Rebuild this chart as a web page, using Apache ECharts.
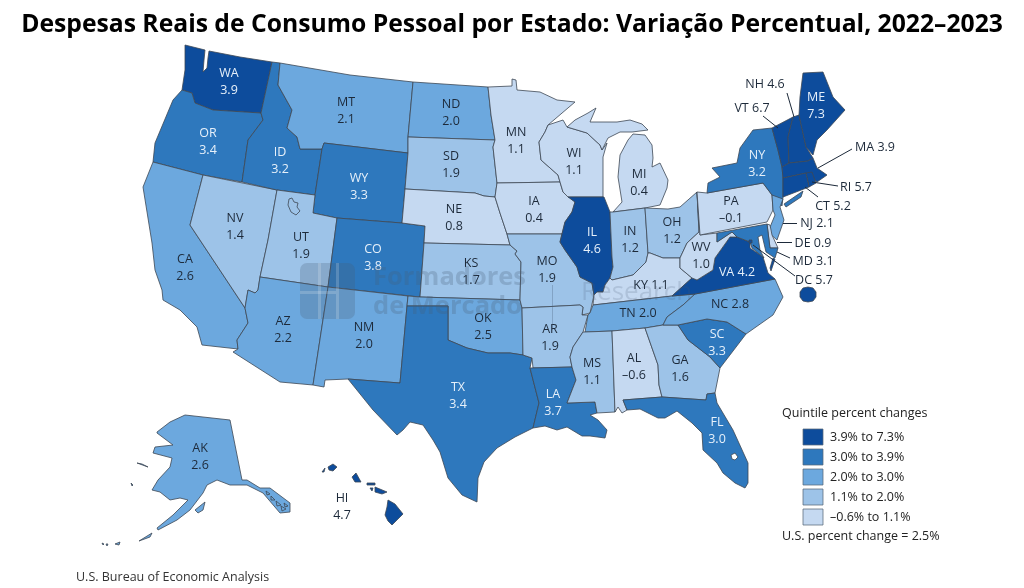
<!DOCTYPE html>
<html lang="pt">

<head>
  <meta charset="UTF-8" />
  <title>Despesas Reais de Consumo Pessoal por Estado</title>
  <script src="https://cdn.jsdelivr.net/npm/echarts@6/dist/echarts.min.js"></script>
  <style>
    html,
    body {
      margin: 0;
      background: #fff;
    }

    #chart {
      width: 1024px;
      height: 588px;
    }
  </style>
</head>

<body>
  <div id="chart"></div>

  <script>
    const stateCodes = ['WA', 'OR', 'CA', 'NV', 'ID', 'MT', 'WY', 'UT', 'AZ', 'CO', 'NM', 'ND', 'SD', 'NE', 'KS', 'OK', 'TX',
      'MN', 'IA', 'MO', 'AR', 'LA', 'WI', 'IL', 'MI', 'IN', 'OH', 'KY', 'TN', 'MS', 'AL', 'GA', 'FL', 'SC', 'NC', 'VA', 'WV',
      'PA', 'NY', 'VT', 'NH', 'ME', 'MA', 'RI', 'CT', 'NJ', 'DE', 'MD', 'DC', 'AK', 'HI'];
    const stateValues = [3.9, 3.4, 2.6, 1.4, 3.2, 2.1, 3.3, 1.9, 2.2, 3.8, 2.0, 2.0, 1.9, 0.8, 1.7, 2.5, 3.4,
      1.1, 0.4, 1.9, 1.9, 3.7, 1.1, 4.6, 0.4, 1.2, 1.2, 1.1, 2.0, 1.1, -0.6, 1.6, 3.0, 3.3, 2.8, 4.2, 1.0,
      -0.1, 3.2, 6.7, 4.6, 7.3, 3.9, 5.7, 5.2, 2.1, 0.9, 3.1, 5.7, 2.6, 4.7];
    // 1 = quintil mais alto, 5 = mais baixo
    const stateQuintiles = [1, 2, 3, 4, 2, 3, 2, 4, 3, 2, 3, 3, 4, 5, 4, 3, 2,
      5, 5, 4, 4, 2, 5, 1, 5, 4, 4, 5, 3, 4, 5, 4, 2, 2, 3, 1, 5,
      5, 2, 1, 1, 1, 1, 1, 1, 3, 5, 2, 1, 3, 1];
    const quintileLabels = ['3.9% to 7.3%', '3.0% to 3.9%', '2.0% to 3.0%', '1.1% to 2.0%', '–0.6% to 1.1%'];
    const quintileColors = ['#0d4c9c', '#2e78bd', '#6ca8de', '#9dc3e8', '#c5d9f1'];

    // estados com rótulo em uma linha só
    const oneLineStates = ['KY', 'TN', 'NC', 'VA', 'NH', 'VT', 'MA', 'RI', 'CT', 'NJ', 'DE', 'MD', 'DC'];
    // estados com rótulo fora do polígono ficam sempre escuros
    const outsideLabels = ['NH', 'VT', 'MA', 'RI', 'CT', 'NJ', 'DE', 'MD', 'DC', 'HI'];

    // contornos desenhados à mão, em px da imagem (y para baixo)
    const stateShapes = {
      WA: [[[185, 45], [205, 50], [204, 60], [203, 72], [207, 68], [208, 58], [209, 51], [240, 57], [272, 62], [261, 113], [213, 110], [195, 103], [192, 93], [182, 90], [185, 70]]],
      OR: [[[182, 90], [192, 93], [195, 103], [213, 110], [261, 113], [263, 120], [248, 140], [242, 182], [203, 175], [153, 162], [155, 143], [173, 100]]],
      CA: [[[153, 162], [203, 175], [190, 225], [245, 308], [248, 323], [237, 340], [238, 349], [202, 345], [197, 327], [180, 310], [163, 300], [162, 290], [155, 270], [152, 243], [143, 187]]],
      NV: [[[203, 175], [277, 190], [268, 240], [260, 277], [258, 290], [255, 293], [248, 290], [245, 308], [190, 225]]],
      ID: [[[272, 62], [280, 63], [278, 85], [292, 110], [287, 128], [297, 137], [300, 149], [322, 149], [315, 195], [277, 190], [242, 182], [248, 140], [263, 120], [261, 113]]],
      MT: [[[280, 63], [350, 75], [413, 82], [408, 137], [408, 153], [324, 143], [322, 149], [300, 149], [297, 137], [287, 128], [292, 110], [278, 85]]],
      WY: [[[324, 143], [408, 153], [405, 189], [402, 223], [337, 218], [313, 213], [315, 195], [322, 149]]],
      UT: [[[277, 190], [315, 195], [313, 213], [337, 218], [328, 287], [260, 277], [268, 240]],
        [[289, 199], [288, 205], [291, 212], [296, 215], [300, 211], [297, 207], [298, 203], [294, 202], [292, 198]]],
      AZ: [[[260, 277], [328, 287], [313, 385], [280, 382], [233, 352], [238, 349], [237, 340], [248, 323], [245, 308], [248, 290], [255, 293], [258, 290]]],
      CO: [[[337, 218], [402, 223], [425, 226], [424, 243], [420, 297], [328, 287]]],
      NM: [[[328, 287], [408, 296], [407, 306], [400, 383], [348, 379], [325, 380], [324, 387], [313, 385]]],
      ND: [[[413, 82], [488, 87], [491, 115], [495, 140], [408, 137]]],
      SD: [[[408, 137], [495, 140], [493, 147], [497, 183], [495, 197], [484, 196], [475, 193], [405, 189], [408, 153]]],
      NE: [[[405, 189], [475, 193], [484, 196], [495, 197], [500, 213], [507, 234], [510, 245], [424, 243], [425, 226], [402, 223]]],
      KS: [[[424, 243], [510, 245], [517, 251], [515, 254], [521, 262], [520, 300], [420, 297]]],
      OK: [[[408, 296], [420, 297], [520, 300], [522, 308], [523, 355], [510, 353], [488, 353], [467, 348], [448, 340], [448, 306], [407, 306]]],
      TX: [[[407, 306], [448, 306], [448, 340], [467, 348], [488, 353], [510, 353], [523, 355], [532, 358], [530, 368], [539, 403], [533, 428], [515, 437], [497, 448], [484, 462], [478, 478], [477, 502], [462, 495], [448, 478], [440, 452], [433, 440], [423, 425], [410, 422], [403, 430], [397, 435], [373, 410], [348, 379], [400, 383]]],
      MN: [[[488, 87], [512, 86], [512, 79], [516, 80], [517, 90], [540, 92], [557, 100], [575, 102], [548, 125], [545, 132], [539, 142], [541, 160], [558, 175], [560, 182], [497, 183], [493, 147], [495, 140], [491, 115]]],
      IA: [[[497, 183], [560, 182], [563, 192], [575, 202], [572, 212], [565, 222], [562, 234], [507, 234], [500, 213], [495, 197]]],
      MO: [[[507, 234], [562, 234], [560, 242], [565, 250], [577, 267], [580, 277], [592, 283], [594, 295], [590, 313], [582, 315], [583, 307], [580, 305], [522, 308], [520, 300], [521, 262], [515, 254], [517, 251], [510, 245]]],
      AR: [[[522, 308], [580, 305], [583, 307], [582, 315], [588, 315], [583, 332], [573, 347], [570, 357], [572, 367], [533, 368], [532, 358], [523, 355]]],
      LA: [[[530, 368], [572, 367], [576, 380], [567, 403], [595, 402], [597, 413], [590, 415], [598, 420], [607, 430], [605, 438], [590, 436], [582, 436], [567, 427], [557, 430], [545, 426], [533, 428], [539, 403]]],
      WI: [[[548, 125], [563, 120], [567, 127], [587, 133], [600, 145], [602, 150], [607, 143], [603, 157], [603, 197], [568, 197], [563, 192], [560, 182], [558, 175], [541, 160], [539, 142], [545, 132]]],
      IL: [[[568, 197], [604, 197], [610, 212], [612, 257], [613, 267], [610, 278], [605, 285], [603, 292], [597, 292], [594, 295], [592, 283], [580, 277], [577, 267], [565, 250], [560, 242], [562, 234], [565, 222], [572, 212], [575, 202]]],
      MI: [[[567, 127], [575, 120], [588, 113], [596, 108], [590, 122], [604, 122], [617, 122], [630, 120], [642, 124], [648, 130], [632, 132], [620, 132], [608, 138], [602, 150], [600, 145], [587, 133]],
        [[613, 212], [622, 202], [618, 177], [620, 155], [628, 140], [633, 134], [645, 135], [652, 145], [653, 158], [652, 167], [660, 163], [668, 180], [667, 188], [660, 205], [645, 208]]],
      IN: [[[610, 212], [613, 212], [645, 208], [648, 253], [646, 262], [633, 275], [612, 280], [610, 278], [613, 267], [612, 257]]],
      OH: [[[645, 208], [668, 209], [680, 207], [697, 192], [699, 232], [687, 243], [680, 258], [663, 258], [650, 253], [648, 253]]],
      KY: [[[597, 292], [603, 292], [605, 285], [610, 278], [612, 280], [633, 275], [646, 262], [648, 253], [650, 253], [663, 258], [680, 258], [680, 268], [692, 278], [672, 296], [593, 305], [594, 295]]],
      TN: [[[593, 305], [672, 296], [695, 294], [683, 305], [667, 317], [663, 325], [645, 328], [612, 331], [585, 332], [588, 315], [590, 313]]],
      MS: [[[585, 332], [612, 331], [615, 412], [597, 413], [595, 402], [567, 403], [576, 380], [572, 367], [570, 357], [573, 347], [583, 332]]],
      AL: [[[612, 331], [645, 328], [658, 365], [659, 385], [662, 397], [623, 400], [627, 410], [622, 413], [618, 407], [615, 412]]],
      GA: [[[645, 328], [663, 325], [678, 325], [688, 340], [710, 357], [720, 368], [715, 393], [707, 394], [706, 400], [662, 397], [659, 385], [658, 365]]],
      FL: [[[623, 400], [662, 397], [706, 400], [707, 394], [715, 393], [717, 403], [733, 430], [748, 463], [748, 483], [745, 488], [735, 483], [723, 473], [717, 463], [703, 450], [702, 433], [692, 423], [677, 411], [665, 418], [658, 418], [640, 409], [627, 410]],
        [[731, 455], [735, 453], [738, 457], [735, 460], [732, 459]]],
      SC: [[[678, 325], [707, 319], [727, 322], [746, 334], [720, 368], [710, 357], [688, 340]]],
      NC: [[[695, 294], [775, 279], [783, 297], [773, 315], [746, 334], [727, 322], [707, 319], [678, 325], [663, 325], [667, 317], [683, 305]]],
      VA: [[[672, 296], [692, 278], [697, 280], [713, 270], [715, 258], [730, 237], [737, 237], [750, 242], [750, 248], [763, 257], [768, 273], [775, 279], [695, 294]],
        [[773, 258], [775, 259], [771, 271], [770, 268]]],
      WV: [[[680, 268], [680, 258], [687, 243], [699, 232], [697, 192], [700, 235], [717, 233], [717, 242], [732, 232], [737, 237], [730, 237], [715, 258], [713, 270], [697, 280], [692, 278]]],
      PA: [[[697, 192], [707, 193], [763, 183], [772, 195], [773, 210], [767, 222], [700, 235]]],
      NY: [[[707, 193], [708, 183], [720, 177], [712, 168], [737, 163], [740, 148], [753, 130], [772, 128], [778, 150], [782, 167], [783, 178], [783, 197], [782, 206], [772, 195], [763, 183]],
        [[784, 204], [803, 191], [801, 197], [786, 207]]],
      VT: [[[772, 128], [793, 117], [788, 137], [789, 163], [782, 167], [778, 150]]],
      NH: [[[793, 117], [799, 115], [806, 147], [813, 158], [808, 161], [789, 163], [788, 137]]],
      ME: [[[799, 115], [800, 97], [803, 73], [823, 72], [833, 97], [845, 110], [827, 130], [817, 140], [813, 155], [806, 147]]],
      MA: [[[782, 167], [789, 163], [808, 161], [813, 158], [817, 168], [827, 175], [817, 182], [806, 173], [783, 178]]],
      RI: [[[806, 173], [812, 172], [816, 183], [809, 187]]],
      CT: [[[783, 178], [806, 173], [809, 187], [783, 197]]],
      NJ: [[[772, 195], [783, 199], [780, 207], [784, 220], [777, 240], [768, 232], [775, 215], [773, 210]]],
      DE: [[[767, 224], [770, 225], [772, 235], [778, 248], [770, 248]]],
      MD: [[[717, 233], [767, 224], [770, 248], [778, 248], [775, 258], [766, 252], [762, 235], [758, 237], [760, 250], [764, 258], [752, 248], [750, 242], [737, 237], [732, 232], [717, 242]]],
      DC: [[[749, 240], [752, 240], [752, 243], [749, 243]],
        [[808, 287], [813, 288], [816, 292], [816, 297], [813, 301], [808, 302], [803, 301], [800, 297], [800, 292], [803, 288]]],
      AK: [[[157, 432], [170, 422], [185, 415], [230, 420], [242, 480], [247, 480], [260, 488], [270, 488], [290, 503], [290, 512], [280, 513], [263, 493], [247, 485], [230, 485], [217, 480], [207, 485], [203, 493], [190, 510], [177, 520], [158, 530], [157, 528], [173, 515], [188, 500], [180, 498], [170, 500], [160, 492], [152, 490], [158, 480], [170, 467], [172, 458], [153, 453], [155, 447], [173, 445], [157, 433]],
        [[195, 510], [205, 502], [203, 510], [198, 513]],
        [[139, 541], [152, 533], [150, 537]],
        [[137, 463], [148, 467], [142, 464]],
        [[115, 544], [120, 542], [119, 545]],
        [[102, 543], [104, 544], [103, 545]],
        [[106, 544], [108, 544], [107, 546]],
        [[131, 483], [133, 485], [132, 486]],
        [[266, 491], [270, 494], [267, 495]],
        [[271, 496], [275, 500], [271, 500]],
        [[276, 501], [281, 505], [277, 506]],
        [[281, 506], [286, 509], [282, 511]],
        [[284, 503], [288, 506], [285, 507]]],
      HI: [[[388, 500], [395, 504], [403, 514], [398, 519], [392, 525], [388, 521], [385, 515], [387, 507]],
        [[375, 487], [387, 492], [382, 494], [375, 492]],
        [[367, 483], [375, 483], [375, 485], [367, 485]],
        [[370, 488], [373, 488], [372, 491]],
        [[352, 477], [356, 473], [361, 482], [355, 482]],
        [[328, 467], [333, 464], [337, 467], [333, 471], [329, 470]],
        [[322, 472], [325, 468], [324, 472]]]
    };

    // posição do centro de cada rótulo, em px da imagem
    const labelAnchors = {
      WA: [229, 82], OR: [208, 142], CA: [185, 268], NV: [235, 227], ID: [280, 161], MT: [346, 111], WY: [359, 187], UT: [301, 246],
      AZ: [283, 330], CO: [373, 258], NM: [364, 336], ND: [451, 113], SD: [451, 165], NE: [454, 218], KS: [471, 272], OK: [483, 327],
      TX: [458, 396], MN: [516, 141], IA: [534, 210], MO: [547, 270], AR: [550, 338], LA: [553, 403], WI: [574, 162], IL: [592, 241],
      MI: [639, 183], IN: [630, 240], OH: [672, 231], KY: [651, 285], TN: [638, 313], MS: [592, 372], AL: [634, 367], GA: [680, 369],
      FL: [717, 431], SC: [717, 343], NC: [730, 304], VA: [737, 272], WV: [701, 256], PA: [731, 210], NY: [757, 164], VT: [752, 108],
      NH: [765, 84], ME: [816, 106], MA: [875, 147], RI: [856, 187], CT: [833, 206], NJ: [817, 223], DE: [813, 243], MD: [813, 261],
      DC: [814, 280], AK: [200, 457], HI: [342, 507]
    };

    // linhas de chamada dos estados pequenos
    const leaderLines = [
      [[787, 93], [794, 117]],
      [[763, 116], [778, 128]],
      [[852, 149], [818, 168]],
      [[838, 186], [812, 182]],
      [[818, 197], [805, 187]],
      [[797, 223], [783, 223]],
      [[792, 242], [777, 242]],
      [[790, 258], [777, 252]],
      [[795, 276], [753, 245]]
    ];

    const flip = p => [p[0], -p[1]];

    const usaGeo = {
      type: 'FeatureCollection',
      features: stateCodes.map(code => ({
        type: 'Feature',
        properties: { name: code, cp: flip(labelAnchors[code]) },
        geometry: {
          type: 'MultiPolygon',
          coordinates: stateShapes[code].map(ring => [ring.map(flip)])
        }
      }))
    };
    // lagos como furos (UT e FL): segundo anel dentro do mesmo polígono
    usaGeo.features.forEach(f => {
      if (f.properties.name === 'UT' || f.properties.name === 'FL') {
        const rings = stateShapes[f.properties.name];
        f.geometry = { type: 'Polygon', coordinates: [rings[0].map(flip), rings[1].map(flip).reverse()] };
      }
    });
    echarts.registerMap('usa', usaGeo);

    const darkText = '#1d2a3a';
    const lightText = '#e6f0fa';
    const fontName = '"Open Sans", "Noto Sans", sans-serif';
    const markFill = 'rgba(70,90,115,0.25)';

    const mapBox = { left: 0, top: 0, width: 1024, height: 588 };
    const mapBounds = [[0, 0], [1024, -588]];

    const stateData = stateCodes.map((code, i) => ({
      name: code,
      value: [stateValues[i], stateQuintiles[i]],
      label: {
        color: stateQuintiles[i] <= 2 && !outsideLabels.includes(code) ? lightText : darkText
      }
    }));

    const chart = echarts.init(document.getElementById('chart'));

    chart.setOption({
      animation: false,
      backgroundColor: '#fff',
      title: {
        text: 'Despesas Reais de Consumo Pessoal por Estado: Variação Percentual, 2022–2023',
        left: 'center',
        top: 7,
        textStyle: { fontFamily: fontName, fontWeight: 'bold', fontSize: 24.7, color: '#000' }
      },
      visualMap: {
        type: 'piecewise',
        seriesIndex: 0,
        dimension: 1,
        left: 803,
        top: 429,
        padding: 0,
        align: 'left',
        itemSymbol: 'rect',
        itemWidth: 20,
        itemHeight: 16,
        itemGap: 4,
        textGap: 7,
        selectedMode: false,
        hoverLink: false,
        inverse: true,
        textStyle: { fontFamily: fontName, fontSize: 12.5, color: '#222' },
        pieces: quintileLabels.map((label, i) => ({ value: i + 1, label: label, color: quintileColors[i] }))
      },
      // geo invisível só para posicionar as linhas de chamada
      geo: {
        map: 'usa',
        ...mapBox,
        aspectScale: 1,
        boundingCoords: mapBounds,
        silent: true,
        itemStyle: { areaColor: 'transparent', borderWidth: 0 },
        label: { show: false },
        emphasis: { disabled: true }
      },
      series: [
        {
          type: 'map',
          map: 'usa',
          ...mapBox,
          aspectScale: 1,
          boundingCoords: mapBounds,
          selectedMode: false,
          emphasis: { disabled: true },
          itemStyle: { borderColor: '#3d4854', borderWidth: 0.8, areaColor: '#fff' },
          label: {
            show: true,
            fontFamily: fontName,
            fontSize: 12.5,
            lineHeight: 17,
            formatter: function (params) {
              const value = stateValues[stateCodes.indexOf(params.name)];
              const text = value.toFixed(1).replace('-', '–');
              return params.name + (oneLineStates.includes(params.name) ? ' ' : '\n') + text;
            }
          },
          data: stateData
        },
        {
          type: 'lines',
          coordinateSystem: 'geo',
          polyline: false,
          silent: true,
          z: 5,
          lineStyle: { color: '#1d2a3a', width: 1, opacity: 1 },
          data: leaderLines.map(l => ({ coords: l.map(flip) }))
        }
      ],
      graphic: [
        // texto do rodapé e da legenda
        { type: 'text', left: 782, top: 407, style: { text: 'Quintile percent changes', font: '12.5px ' + fontName, fill: '#222' } },
        { type: 'text', left: 782, top: 530, style: { text: 'U.S. percent change = 2.5%', font: '12.5px ' + fontName, fill: '#222' } },
        { type: 'text', left: 76, top: 571, style: { text: 'U.S. Bureau of Economic Analysis', font: '12.5px ' + fontName, fill: '#333' } },
        // contorno dos quadrados da legenda
        ...quintileColors.map((c, i) => ({
          type: 'rect', z: 20, silent: true,
          shape: { x: 803, y: 429 + i * 20, width: 20, height: 16 },
          style: { fill: 'none', stroke: 'rgba(90,105,120,0.75)', lineWidth: 1 }
        })),
        // marca d'água
        { type: 'rect', z: 20, silent: true, shape: { x: 300, y: 263, width: 55, height: 56, r: 7 }, style: { fill: markFill } },
        { type: 'rect', z: 20, silent: true, shape: { x: 318, y: 263, width: 3, height: 56 }, style: { fill: 'rgba(255,255,255,0.18)' } },
        { type: 'rect', z: 20, silent: true, shape: { x: 336, y: 263, width: 3, height: 56 }, style: { fill: 'rgba(255,255,255,0.18)' } },
        { type: 'rect', z: 20, silent: true, shape: { x: 300, y: 291, width: 36, height: 3 }, style: { fill: 'rgba(255,255,255,0.18)' } },
        { type: 'text', z: 20, silent: true, x: 373, y: 265, style: { text: 'Formadores', font: 'bold 25.5px ' + fontName, fill: markFill } },
        { type: 'text', z: 20, silent: true, x: 373, y: 294, style: { text: 'de Mercado', font: 'bold 25.5px ' + fontName, fill: markFill } },
        { type: 'rect', z: 20, silent: true, shape: { x: 552, y: 285, width: 1, height: 45 }, style: { fill: 'rgba(70,90,115,0.3)' } },
        { type: 'text', z: 20, silent: true, x: 581, y: 280, style: { text: 'Research', font: '26px ' + fontName, fill: 'rgba(70,90,115,0.18)' } }
      ]
    });
  </script>
</body>

</html>
